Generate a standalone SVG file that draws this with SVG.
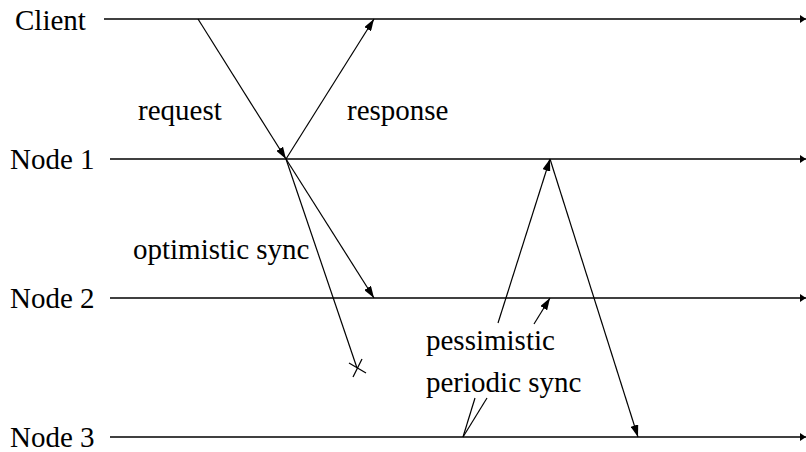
<svg xmlns="http://www.w3.org/2000/svg" width="806" height="452" viewBox="0 0 806 452" font-family="Liberation Serif, Libertinus Serif, Linux Libertine O, Noto Serif, DejaVu Serif, FreeSerif, Nimbus Roman, Times New Roman, Times, Georgia, serif" font-size="29">
<style>
.tl{stroke:#000;stroke-width:1.4;fill:none}
.m{stroke:#000;stroke-width:1.2;fill:none}
</style>
<defs>
<marker id="ah" viewBox="0 0 12 8" refX="12" refY="4" markerWidth="12" markerHeight="8" markerUnits="userSpaceOnUse" orient="auto">
<path d="M0,0 L12,4 L0,8 Z" fill="#000"/>
</marker>
<marker id="sh" viewBox="0 0 6 8" refX="6" refY="4" markerWidth="6" markerHeight="8" markerUnits="userSpaceOnUse" orient="auto">
<path d="M0,0 L6,4 L0,8 Z" fill="#000"/>
</marker>
</defs>
<g id="client"><text x="15" y="30">Client</text><line class="tl" x1="104" y1="19" x2="806" y2="19" marker-end="url(#sh)"/></g>
<g id="node1"><text x="10" y="169">Node 1</text><line class="tl" x1="110" y1="159" x2="806" y2="159" marker-end="url(#sh)"/></g>
<g id="node2"><text x="10" y="308">Node 2</text><line class="tl" x1="110" y1="298" x2="806" y2="298" marker-end="url(#sh)"/></g>
<g id="node3"><text x="10" y="447">Node 3</text><line class="tl" x1="110" y1="437" x2="806" y2="437" marker-end="url(#sh)"/></g>
<g id="connectors">
<line class="m" x1="198" y1="19" x2="286" y2="159" marker-end="url(#ah)"/>
<line class="m" x1="286" y1="159" x2="374" y2="19" marker-end="url(#ah)"/>
<line class="m" x1="286" y1="159" x2="374" y2="298" marker-end="url(#ah)"/>
<line class="m" x1="286" y1="159" x2="357" y2="368"/>
<line class="m" x1="349" y1="363" x2="366" y2="373"/>
<line class="m" x1="353" y1="377" x2="362" y2="359"/>
<line class="m" x1="498" y1="323" x2="550" y2="159" marker-end="url(#ah)"/>
<line class="m" x1="550" y1="159" x2="638" y2="437" marker-end="url(#ah)"/>
<line class="m" x1="534" y1="324" x2="550" y2="298" marker-end="url(#ah)"/>
<line class="m" x1="475" y1="398" x2="463" y2="437"/>
<line class="m" x1="487" y1="398" x2="463" y2="437"/>
</g>
<g id="labels">
<text x="138" y="120">request</text>
<text x="347" y="120">response</text>
<text x="133" y="259">optimistic sync</text>
<text x="426" y="350">pessimistic</text>
<text x="426" y="392">periodic sync</text>
</g>
</svg>
